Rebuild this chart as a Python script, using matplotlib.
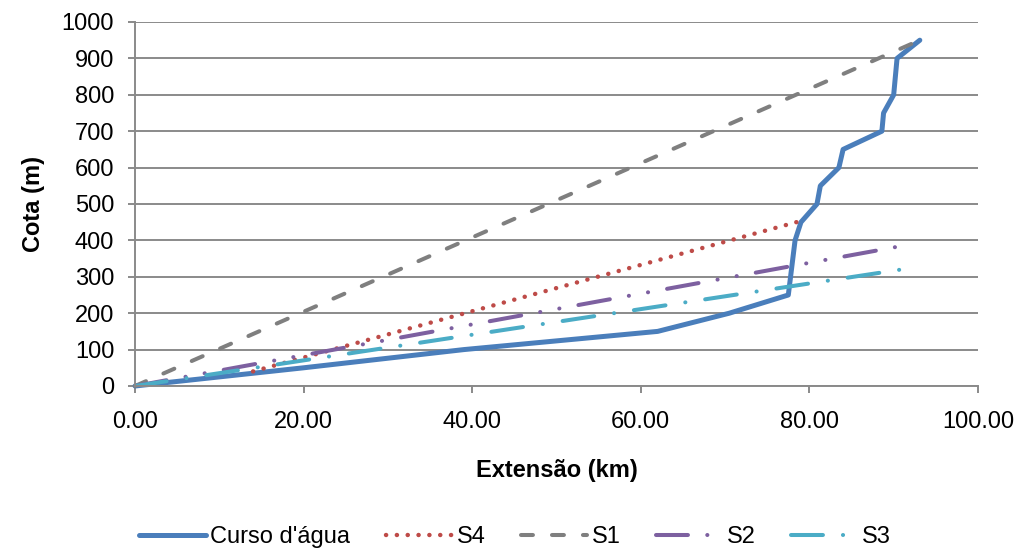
import matplotlib
matplotlib.use("Agg")
import matplotlib.pyplot as plt

plt.rcParams['font.family'] = ['Liberation Sans', 'DejaVu Sans']
plt.rcParams['lines.scale_dashes'] = False

# Data
curso_x = [0, 20, 39, 62, 70.5, 77.5, 78.3, 79.0, 80.9, 81.3, 83.5, 84.0, 88.6, 88.8, 90.0, 90.4, 93.1]
curso_y = [0, 50, 100, 150, 200, 250, 400, 450, 500, 550, 600, 650, 700, 750, 800, 900, 950]
s4_x = [14.0, 78.6]
s4_y = [40, 451]
s1_x = [0, 93.1]
s1_y = [0, 950]
s2_x = [0, 91.5]
s2_y = [0, 387]
s3_x = [0, 90.9]
s3_y = [0, 320]

x_ticks = [0, 20, 40, 60, 80, 100]
x_ticklabels = ["0.00", "20.00", "40.00", "60.00", "80.00", "100.00"]
y_ticks = list(range(0, 1001, 100))

fig = plt.figure(figsize=(10.2, 5.5), dpi=100)
ax = fig.add_axes([0.1324, 0.2982, 0.9588 - 0.1324, 0.96 - 0.2982])

gridc = '#8a8a8a'
ax.set_xlim(0, 100)
ax.set_ylim(0, 1000)
ax.set_yticks(y_ticks)
ax.set_xticks(x_ticks)
ax.set_xticklabels(x_ticklabels)
ax.yaxis.grid(True, color=gridc, linewidth=1.4)
ax.set_axisbelow(True)
for s in ['top', 'right']:
    ax.spines[s].set_visible(False)
for s in ['left', 'bottom']:
    ax.spines[s].set_color(gridc)
    ax.spines[s].set_linewidth(1.4)
ax.tick_params(axis='both', direction='out', length=5, width=1.4, color=gridc,
               labelsize=17)
ax.tick_params(axis='y', pad=10)
ax.tick_params(axis='x', pad=13)

l0, = ax.plot(curso_x, curso_y, color='#4a7ebb', lw=3.6, solid_capstyle='round',
              solid_joinstyle='round', label="Curso d'água", clip_on=False)
l1, = ax.plot(s4_x, s4_y, color='#be4b48', lw=3.2, dashes=(0.1, 7.7),
              dash_capstyle='round', label='S4')
l2, = ax.plot(s1_x, s1_y, color='#7f7f7f', lw=2.9, dashes=(8.6, 13.7),
              dash_capstyle='round', label='S1', clip_on=False)
l3, = ax.plot(s2_x, s2_y, color='#7d60a0', lw=2.9,
              dashes=(23, 13.9, 0.1, 13.9, 0.1, 13.9),
              dash_capstyle='round', label='S2')
l4, = ax.plot(s3_x, s3_y, color='#4bacc6', lw=2.9,
              dashes=(23, 14.4, 0.1, 14.4),
              dash_capstyle='round', label='S3')

ax.set_xlabel('Extensão (km)', fontsize=17, fontweight='bold', labelpad=19)
ax.set_ylabel('Cota (m)', fontsize=17, fontweight='bold', labelpad=12)

fig.legend(handles=[l0, l1, l2, l3, l4], loc='center', bbox_to_anchor=(0.505, 0.024),
           ncol=5, frameon=False, fontsize=17, handlelength=2.8, handletextpad=0.2,
           columnspacing=1.5, borderpad=0)

fig.savefig('out.png', dpi=100)
